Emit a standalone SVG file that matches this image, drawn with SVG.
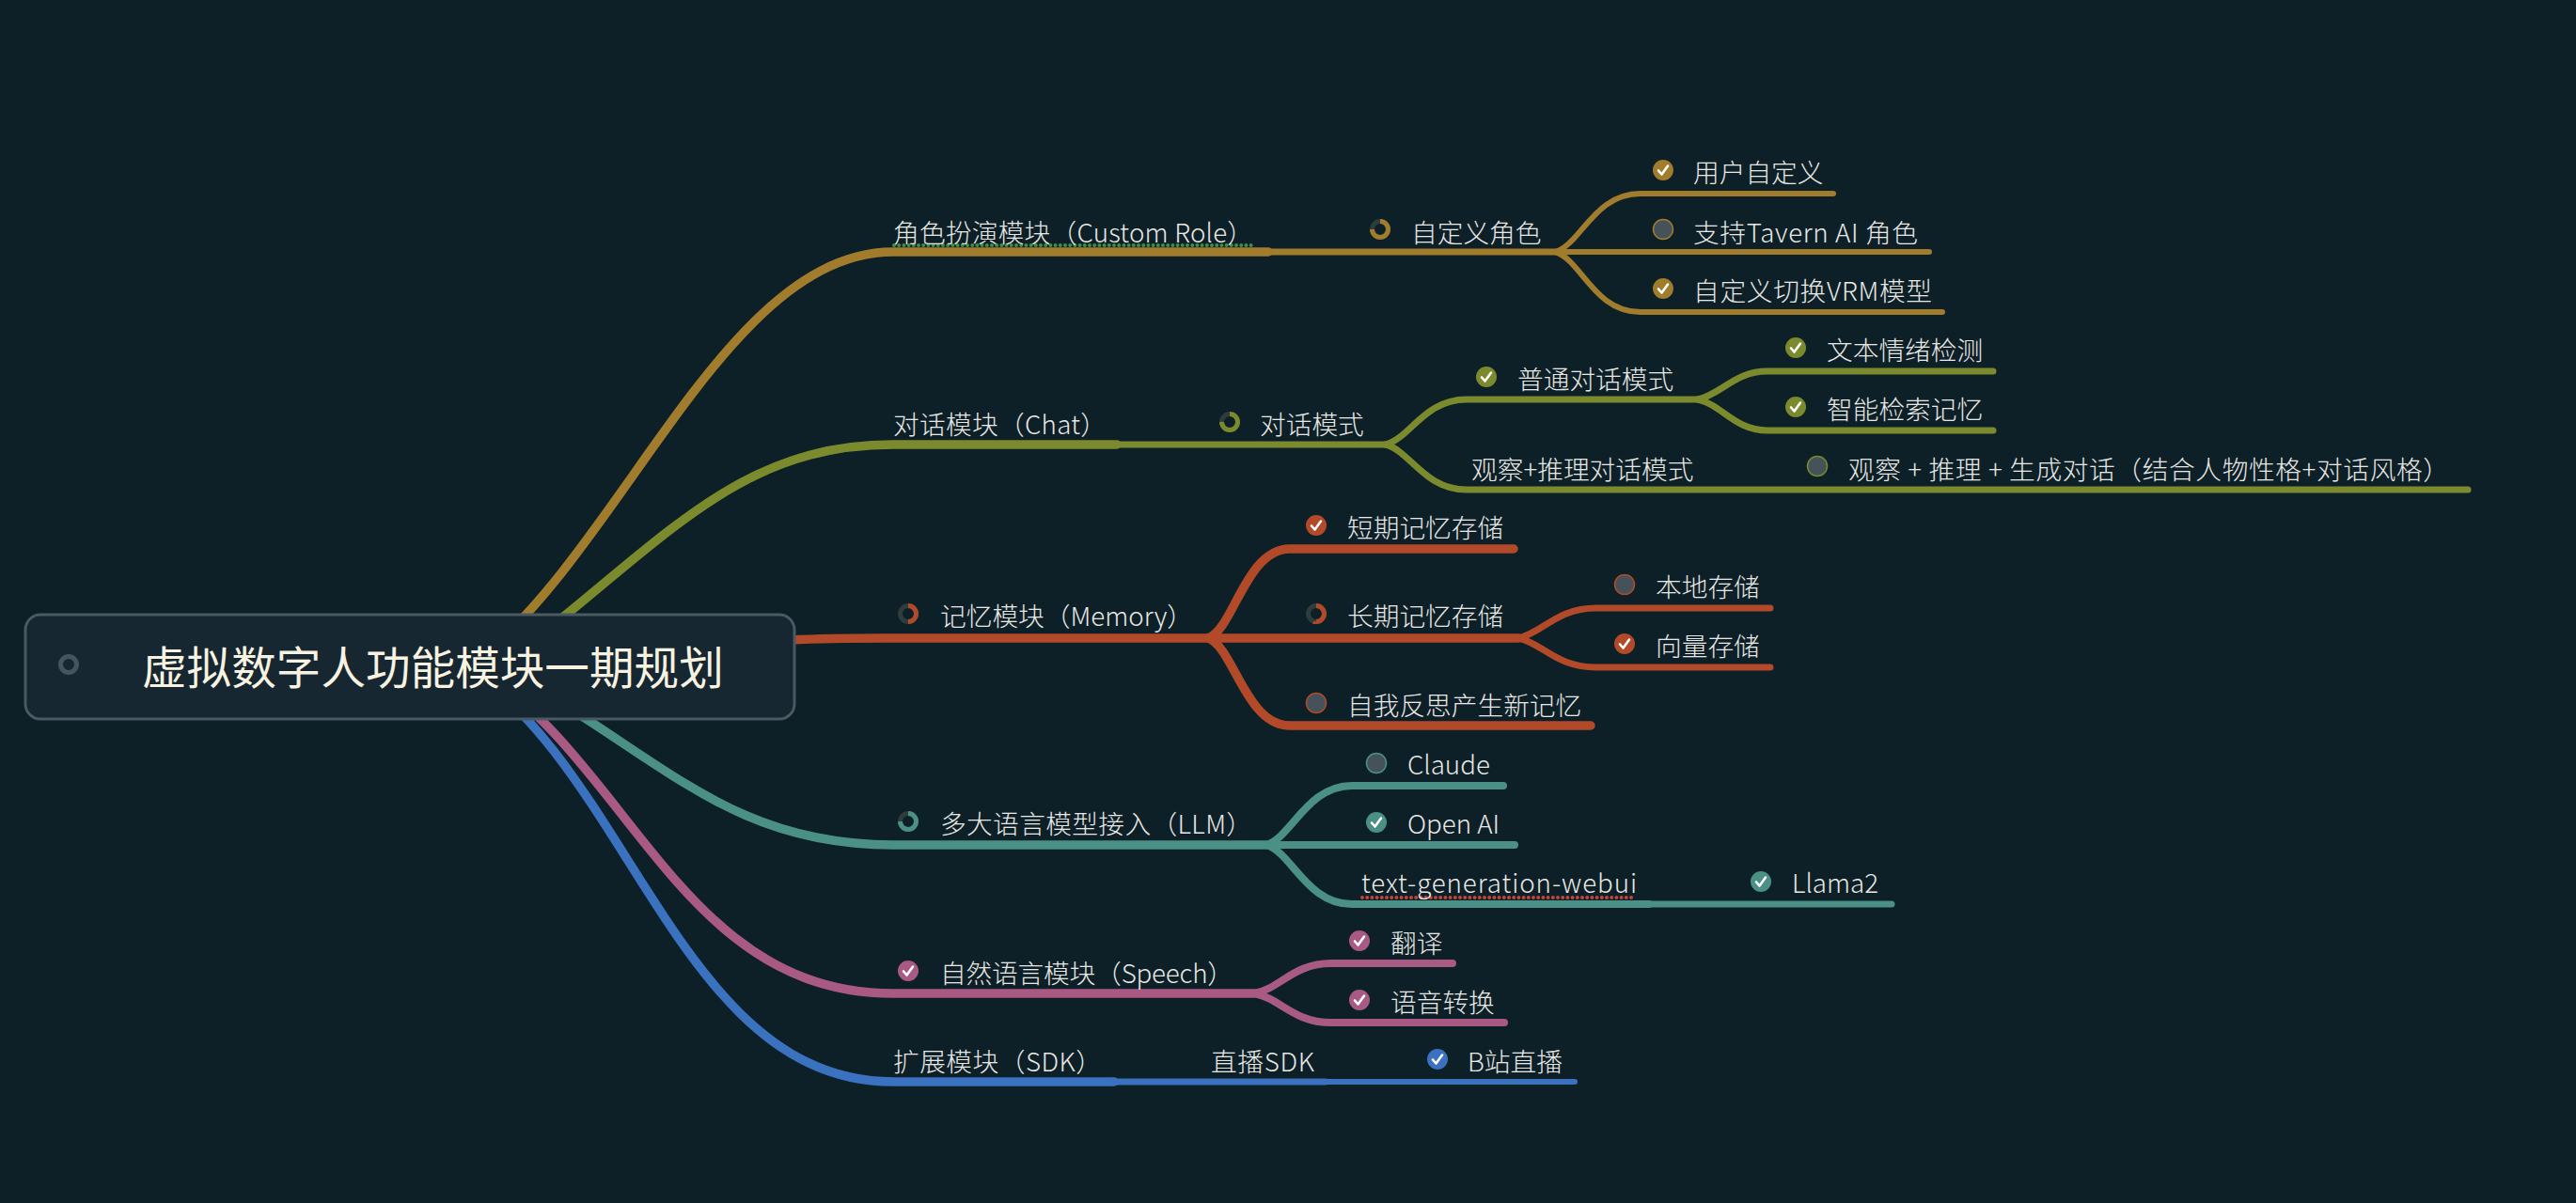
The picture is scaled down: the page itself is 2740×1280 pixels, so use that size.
<svg xmlns="http://www.w3.org/2000/svg" width="2740" height="1280" viewBox="0 0 2740 1280">
<style>
text{font-family:"Noto Sans CJK SC","Noto Sans",sans-serif;font-size:27.7px;fill:#e8e8e4;font-weight:300}
#root text{font-size:47.6px;fill:#f8f3e0;font-weight:400}
.c path{fill:none;stroke-linecap:round;stroke-linejoin:round}
.l1{stroke-width:9.5}.l2{stroke-width:8}.l3{stroke-width:7}.l4{stroke-width:6}
.gold{stroke:#a07c2c}.olive{stroke:#7a8a2c}.red{stroke:#b24a2a}.teal{stroke:#4b9084}.pink{stroke:#a85a85}.blue{stroke:#3a72bf}
.fgold{fill:#a07c2c}.folive{fill:#7a8a2c}.fred{fill:#b24a2a}.fteal{fill:#4b9084}.fpink{fill:#a85a85}.fblue{fill:#3a72bf}
.ck{fill:none;stroke:#fff;stroke-width:2.6;stroke-linecap:round;stroke-linejoin:round}
.todo{fill:#46525a;stroke-width:1.5}
.ring{fill:none;stroke-width:5}
.track{fill:none;stroke:#2f3c3c;stroke-width:5}
.c path.dot{stroke-width:4;stroke-dasharray:0 5.2}
</style>
<defs>
<path id="ck" class="ck" d="M-5 0.5L-1.5 4.5L5 -4.5"/>
<circle id="tr" class="track" r="8.5"/>
</defs>
<rect width="2740" height="1280" fill="#0d1f27"/>
<g id="connectors" class="c">
<path class="l1 gold" d="M500 709C660 590 770 268 950 268H1349"/>
<path class="l3 gold" d="M1349 268H1654"/>
<path class="l4 gold" d="M1654 268C1682 260 1695 206 1745 206H1950"/>
<path class="l4 gold" d="M1654 268H2052"/>
<path class="l4 gold" d="M1654 268C1682 276 1695 332 1745 332H2066"/>
<path class="l1 olive" d="M533 709C703 580 780 473 950 473H1188"/>
<path class="l3 olive" d="M1188 473H1474"/>
<path class="l3 olive" d="M1474 473C1500 466 1515 425 1560 425H1806"/>
<path class="l3 olive" d="M1474 473C1500 480 1515 521 1560 521H2625"/>
<path class="l3 olive" d="M1806 425C1832 419 1845 395 1880 395H2120"/>
<path class="l3 olive" d="M1806 425C1832 431 1845 458 1880 458H2120"/>
<path class="l1 red" d="M840 681C880 679 900 679 940 679H1285"/>
<path class="l1 red" d="M1285 679C1312 670 1325 584 1372 584H1610"/>
<path class="l1 red" d="M1285 679H1615"/>
<path class="l1 red" d="M1285 679C1312 688 1325 772 1372 772H1692"/>
<path class="l3 red" d="M1615 679C1642 673 1655 647 1698 647H1883"/>
<path class="l3 red" d="M1615 679C1642 685 1655 710 1698 710H1883"/>
<path class="l1 teal" d="M530 709C700 800 770 899 950 899H1347"/>
<path class="l2 teal" d="M1347 899C1374 891 1390 836 1438 836H1599"/>
<path class="l2 teal" d="M1347 899H1611"/>
<path class="l2 teal" d="M1347 899C1374 907 1390 962 1438 962H1754"/>
<path class="l3 teal" d="M1754 962H2012"/>
<path class="l1 pink" d="M505 709C670 810 725 1057 950 1057H1334"/>
<path class="l2 pink" d="M1334 1057C1362 1052 1375 1025 1416 1025H1545"/>
<path class="l2 pink" d="M1334 1057C1362 1062 1375 1088 1416 1088H1600"/>
<path class="l1 blue" d="M495 709C670 820 725 1151 950 1151H1185"/>
<path class="l3 blue" d="M1185 1151H1410"/>
<path class="l4 blue" d="M1410 1151H1675"/>
<path class="dot" stroke="#3f8f46" d="M951 261H1333"/>
<path class="dot" stroke="#c0463c" d="M1449 955H1740"/>
</g>
<g id="root">
<rect x="27" y="654" width="818" height="111" rx="16" fill="#162731" stroke="#4a5a62" stroke-width="3"/>
<circle cx="73" cy="707" r="8.5" fill="none" stroke="#45555d" stroke-width="5"/>
<text x="151" y="728">虚拟数字人功能模块一期规划</text>
</g>
<g id="n1"><text x="950" y="258" textLength="383">角色扮演模块（Custom Role）</text></g>
<g id="n1-1"><use href="#tr" x="1468" y="244"/><circle class="ring gold" cx="1468" cy="244" r="8.5" pathLength="100" stroke-dasharray="75 25" transform="rotate(-90 1468 244)"/><text x="1501" y="258">自定义角色</text></g>
<g id="n1-1-1"><circle class="fgold" cx="1769" cy="181" r="11"/><use href="#ck" x="1769" y="181"/><text x="1801" y="194">用户自定义</text></g>
<g id="n1-1-2"><circle class="todo gold" cx="1769" cy="244" r="10.5"/><text x="1801" y="258" textLength="239">支持Tavern AI 角色</text></g>
<g id="n1-1-3"><circle class="fgold" cx="1769" cy="307" r="11"/><use href="#ck" x="1769" y="307"/><text x="1801" y="320" textLength="254">自定义切换VRM模型</text></g>
<g id="n2"><text x="950" y="462" textLength="227">对话模块（Chat）</text></g>
<g id="n2-1"><use href="#tr" x="1308" y="449"/><circle class="ring olive" cx="1308" cy="449" r="8.5" pathLength="100" stroke-dasharray="75 25" transform="rotate(-90 1308 449)"/><text x="1340" y="462">对话模式</text></g>
<g id="n2-1-1"><circle class="folive" cx="1581" cy="401" r="11"/><use href="#ck" x="1581" y="401"/><text x="1614" y="414">普通对话模式</text></g>
<g id="n2-1-1-1"><circle class="folive" cx="1910" cy="370" r="11"/><use href="#ck" x="1910" y="370"/><text x="1943" y="383">文本情绪检测</text></g>
<g id="n2-1-1-2"><circle class="folive" cx="1910" cy="433" r="11"/><use href="#ck" x="1910" y="433"/><text x="1943" y="446">智能检索记忆</text></g>
<g id="n2-1-2"><text x="1565" y="510">观察+推理对话模式</text></g>
<g id="n2-1-2-1"><circle class="todo olive" cx="1933" cy="496" r="10.5"/><text x="1966" y="510" textLength="639">观察 + 推理 + 生成对话（结合人物性格+对话风格）</text></g>
<g id="n3"><use href="#tr" x="966" y="653"/><circle class="ring red" cx="966" cy="653" r="8.5" pathLength="100" stroke-dasharray="50 50" transform="rotate(-90 966 653)"/><text x="1000" y="666" textLength="269">记忆模块（Memory）</text></g>
<g id="n3-1"><circle class="fred" cx="1400" cy="559" r="11"/><use href="#ck" x="1400" y="559"/><text x="1433" y="572">短期记忆存储</text></g>
<g id="n3-2"><use href="#tr" x="1400" y="653"/><circle class="ring red" cx="1400" cy="653" r="8.5" pathLength="100" stroke-dasharray="50 50" transform="rotate(-90 1400 653)"/><text x="1433" y="666">长期记忆存储</text></g>
<g id="n3-2-1"><circle class="todo red" cx="1728" cy="622" r="10.5"/><text x="1761" y="635">本地存储</text></g>
<g id="n3-2-2"><circle class="fred" cx="1728" cy="685" r="11"/><use href="#ck" x="1728" y="685"/><text x="1761" y="698">向量存储</text></g>
<g id="n3-3"><circle class="todo red" cx="1400" cy="748" r="10.5"/><text x="1433" y="761">自我反思产生新记忆</text></g>
<g id="n4"><use href="#tr" x="966" y="874"/><circle class="ring teal" cx="966" cy="874" r="8.5" pathLength="100" stroke-dasharray="75 25" transform="rotate(-90 966 874)"/><text x="1000" y="887" textLength="332">多大语言模型接入（LLM）</text></g>
<g id="n4-1"><circle class="todo teal" cx="1464" cy="812" r="10.5"/><text x="1497" y="824">Claude</text></g>
<g id="n4-2"><circle class="fteal" cx="1464" cy="875" r="11"/><use href="#ck" x="1464" y="875"/><text x="1497" y="887">Open AI</text></g>
<g id="n4-3"><text x="1448" y="950" textLength="293">text-generation-webui</text></g>
<g id="n4-3-1"><circle class="fteal" cx="1873" cy="938" r="11"/><use href="#ck" x="1873" y="938"/><text x="1906" y="950">Llama2</text></g>
<g id="n5"><circle class="fpink" cx="966" cy="1033" r="11"/><use href="#ck" x="966" y="1033"/><text x="1000" y="1046" textLength="312">自然语言模块（Speech）</text></g>
<g id="n5-1"><circle class="fpink" cx="1446" cy="1001" r="11"/><use href="#ck" x="1446" y="1001"/><text x="1479" y="1014">翻译</text></g>
<g id="n5-2"><circle class="fpink" cx="1446" cy="1064" r="11"/><use href="#ck" x="1446" y="1064"/><text x="1479" y="1077">语音转换</text></g>
<g id="n6"><text x="950" y="1140" textLength="222">扩展模块（SDK）</text></g>
<g id="n6-1"><text x="1288" y="1140" textLength="110">直播SDK</text></g>
<g id="n6-1-1"><circle class="fblue" cx="1529" cy="1127" r="11"/><use href="#ck" x="1529" y="1127"/><text x="1561" y="1140">B站直播</text></g>
</svg>
